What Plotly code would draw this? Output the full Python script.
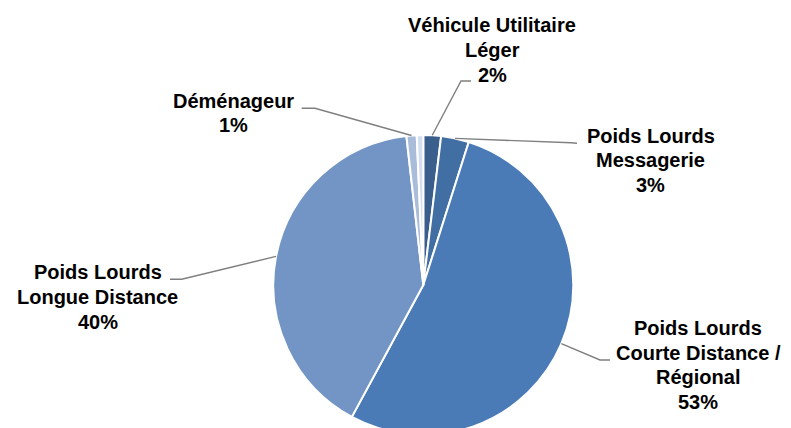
import math
import plotly.graph_objects as go

# ---- data ----
categories = [
    "Véhicule Utilitaire Léger",
    "Poids Lourds Messagerie",
    "Poids Lourds Courte Distance / Régional",
    "Poids Lourds Longue Distance",
    "Déménageur",
    "Autre",
]
label_lines = [
    ["Véhicule Utilitaire", "Léger"],
    ["Poids Lourds", "Messagerie"],
    ["Poids Lourds", "Courte Distance /", "Régional"],
    ["Poids Lourds", "Longue Distance"],
    ["Déménageur"],
    [],
]
values = [1.9, 3.0, 53.0, 40.3, 1.1, 0.7]

# ---- styles / layout ----
colors = ["#3B5F8D", "#416EA3", "#4A7BB6", "#7395C5", "#A9BDDB", "#D5DEEE"]
W, H = 791, 428
OFF = 8  # page body margin: figure coords = page coords - OFF
CX, CY, R = 423.3, 285.0, 150.0   # page pixel coords
# label centre x, first line centre y, line spacing (page px)
label_pos = [(492, 25, 25), (650.5, 136, 24.3), (698, 328.3, 24.5),
             (97.5, 271.7, 25), (233.5, 100.7, 24.5), None]
elbows = [
    [(461, 81), (471, 81)],
    [(571, 142.7), (577, 143.3)],
    [(600, 360), (610, 360)],
    [(181.7, 279.3), (170, 279.3)],
    [(315, 108.3), (301.7, 108.3)],
    None,
]

def px(x):
    return (x - OFF) / W

def py(y):
    return 1 - (y - OFF) / H

fig = go.Figure(
    go.Pie(
        labels=categories,
        values=values,
        sort=False,
        direction="clockwise",
        rotation=0,
        textinfo="none",
        marker=dict(colors=colors, line=dict(color="white", width=2)),
        domain=dict(x=[px(CX - R), px(CX + R)], y=[max(0, py(CY + R)), py(CY - R)]),
        showlegend=False,
        hoverinfo="label+percent",
    )
)

total = sum(values)
cum = 0.0
annotations = []
shapes = []
for i, v in enumerate(values):
    mid = (cum + v / 2) / total
    cum += v
    if label_pos[i] is None:
        continue
    ang = 2 * math.pi * mid
    ex = CX + R * math.sin(ang)
    ey = CY - R * math.cos(ang)
    pts = [(ex, ey)] + elbows[i]
    path = "M " + " L ".join(f"{px(a):.5f},{py(b):.5f}" for a, b in pts)
    shapes.append(dict(type="path", path=path, xref="paper", yref="paper",
                       line=dict(color="#7F7F7F", width=1.4)))
    pct = f"{round(v / total * 100):d}%"
    lx, ly0, dy = label_pos[i]
    for k, t in enumerate(label_lines[i] + [pct]):
        annotations.append(dict(x=px(lx), y=py(ly0 + k * dy), xref="paper", yref="paper",
                                text=f"<b>{t}</b>", showarrow=False, xanchor="center",
                                yanchor="middle", align="center",
                                font=dict(family="Liberation Sans, Arial, sans-serif",
                                          size=20, color="black")))

fig.update_layout(
    width=W, height=H,
    margin=dict(l=0, r=0, t=0, b=0),
    paper_bgcolor="white",
    plot_bgcolor="white",
    annotations=annotations,
    shapes=shapes,
)

fig.write_html("out.html")
